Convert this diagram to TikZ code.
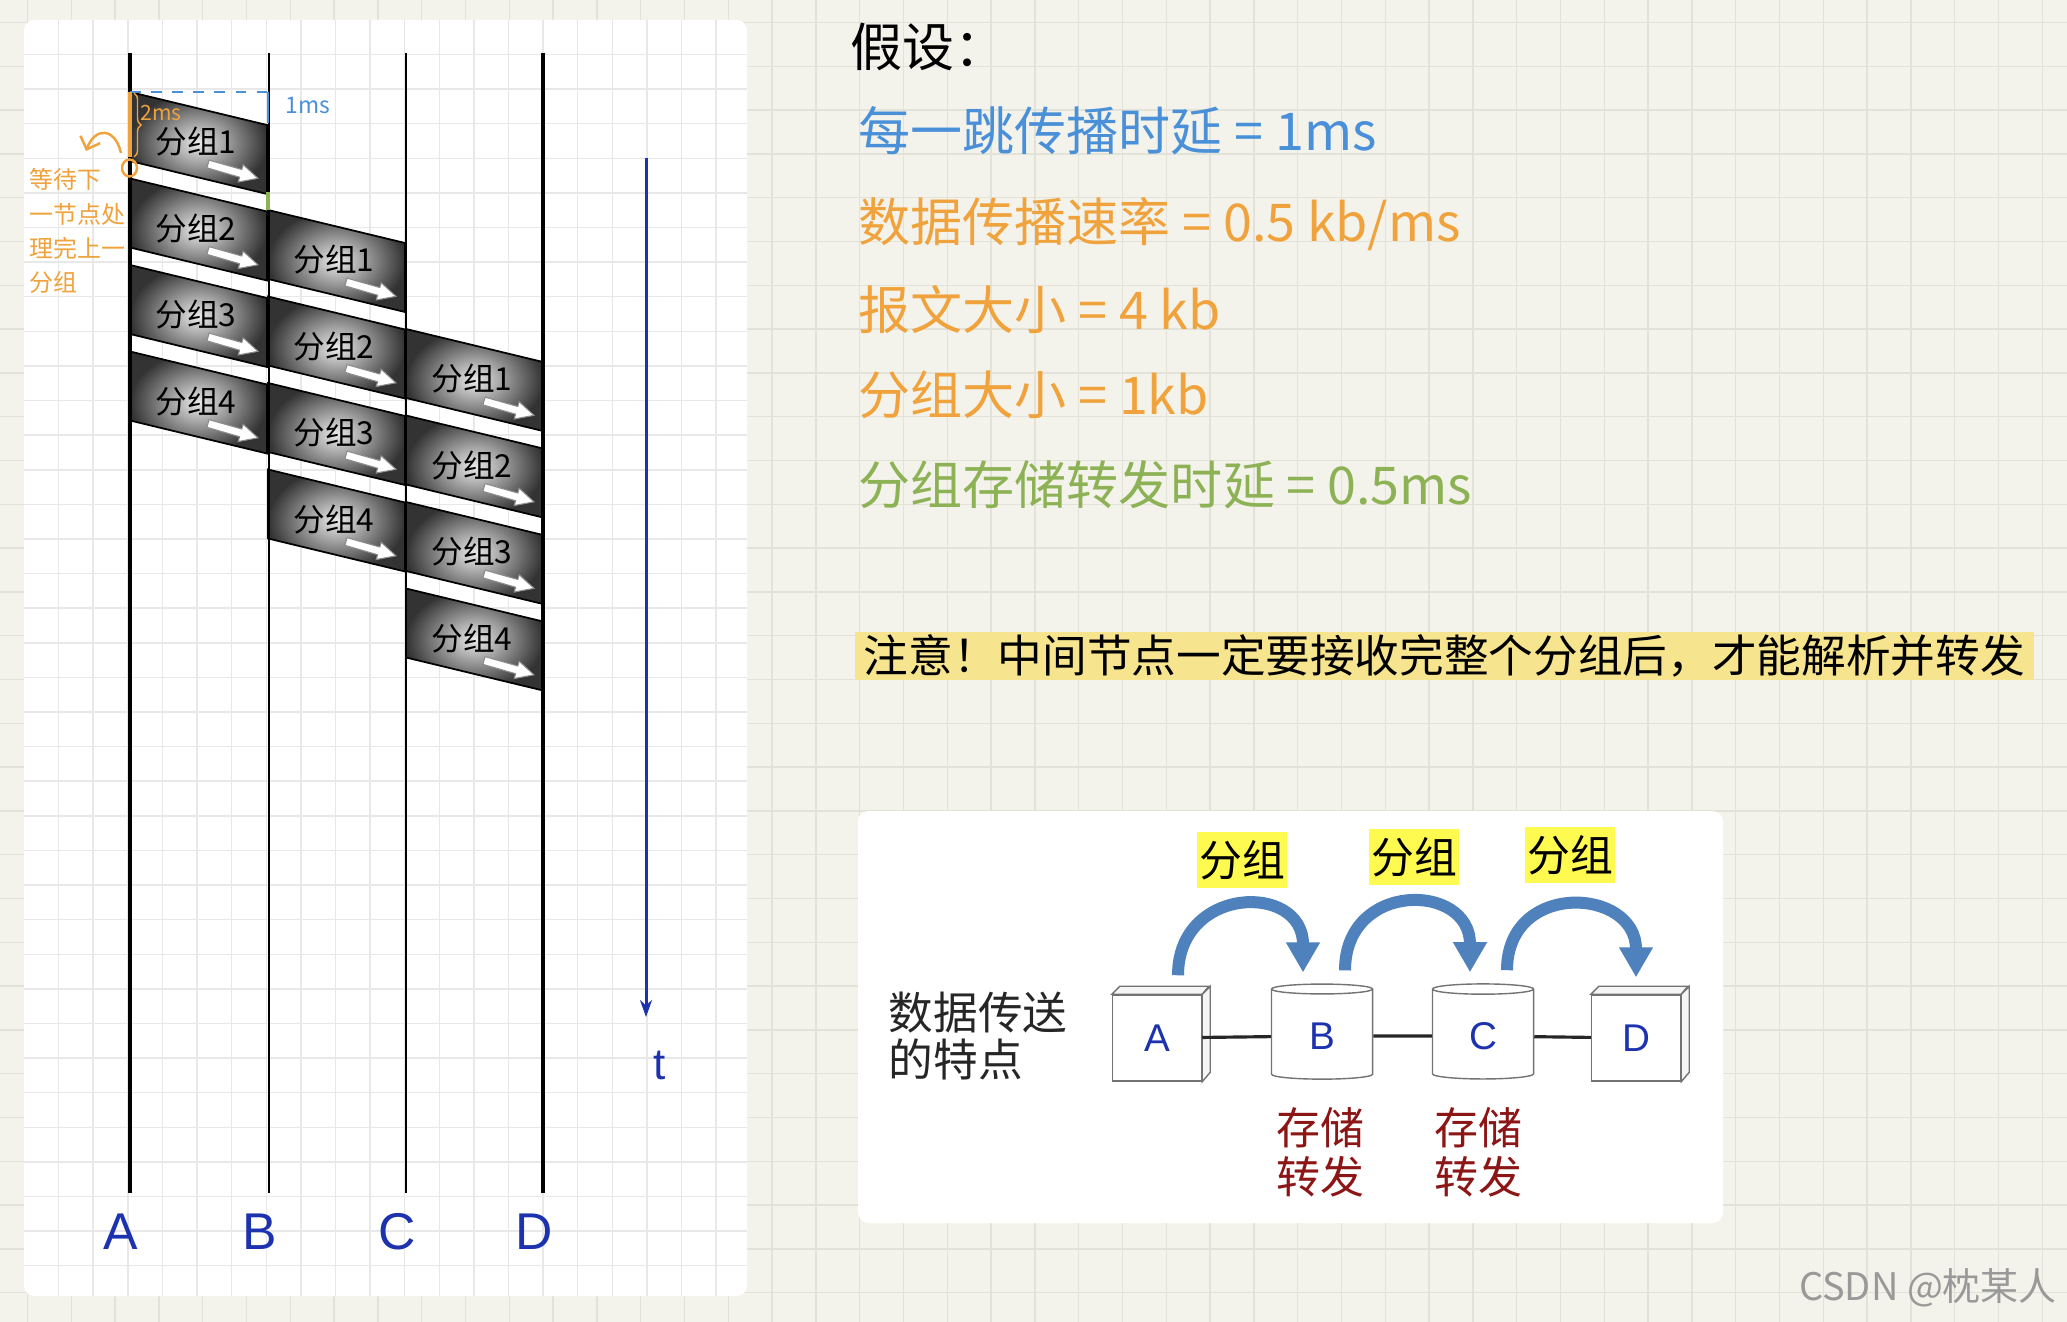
\documentclass[tikz,border=0pt]{standalone}
\usepackage{fontspec}
\setmainfont{Liberation Sans}
\newfontfamily\cjk{Noto Sans CJK SC}
\usepackage{tikz}
\usetikzlibrary{arrows.meta,positioning,shapes.geometric,decorations.pathreplacing}
\usepackage{xcolor}
\definecolor{paper}{RGB}{244,243,235}
\definecolor{papergrid}{RGB}{226,226,216}
\definecolor{sheetgrid}{RGB}{232,232,232}
\definecolor{inkblue}{RGB}{74,144,217}
\definecolor{inkorange}{RGB}{240,162,60}
\definecolor{inkgreen}{RGB}{141,178,85}
\definecolor{markyellow}{RGB}{246,228,142}
\definecolor{axisblue}{RGB}{28,50,175}
\definecolor{hopblue}{RGB}{79,129,189}
\definecolor{tagyellow}{RGB}{255,250,80}
\definecolor{storered}{RGB}{140,22,22}

\begin{document}
\begin{tikzpicture}[x=0.01cm,y=-0.01cm,
  packet/.style={inner color=black!8,outer color=black!80,draw=black,line width=0.5pt},
  pktlabel/.style={font=\cjk\fontsize{9}{10}\selectfont,inner sep=0pt},
  axislabel/.style={font=\fontsize{14.7}{16}\selectfont,text=axisblue,inner sep=0pt},
  hand/.style={font=\cjk\fontsize{14.8}{17}\selectfont,anchor=west,inner sep=0pt},
  netbox/.style={draw=black!55,fill=white,minimum width=0.89cm,minimum height=0.86cm,text=axisblue,font=\fontsize{11}{12}\selectfont},
  boxside/.style={draw=black!55,fill=black!4},
  netcyl/.style={cylinder,shape border rotate=90,aspect=0.2,draw=black!55,fill=white,minimum width=1.01cm,minimum height=0.95cm,text=axisblue,font=\fontsize{11}{12}\selectfont},
  link/.style={black!85,line width=0.9pt},
  hop/.style={hopblue,line width=0.12cm,-{Triangle[width=0.32cm,length=0.3cm]}},
  tag/.style={fill=tagyellow,font=\cjk\fontsize{12.2}{14}\selectfont,minimum width=0.9cm,minimum height=0.56cm,inner sep=0pt},
  store/.style={text=storered,align=center,font=\cjk\fontsize{12.5}{14}\selectfont}]
  \useasboundingbox (0,0) rectangle (2067,1322);
  \fill[paper] (0,0) rectangle (2067,1322);
  \foreach \i in {0,...,46}{\draw[papergrid,line width=0.4pt] ({27.5+43.8*\i},0) -- ++(0,1322);}
  \foreach \i in {0,...,29}{\draw[papergrid,line width=0.4pt] (0,{22.5+43.8*\i}) -- ++(2067,0);}
  \fill[white,rounded corners=3pt] (24,20) rectangle (747,1296);
  \foreach \i in {1,...,20}{\draw[sheetgrid,line width=0.4pt] ({24+34.6*\i},20) -- ++(0,1276);}
  \foreach \i in {1,...,36}{\draw[sheetgrid,line width=0.4pt] (24,{20+34.6*\i}) -- ++(723,0);}
  \fill[white,rounded corners=3pt] (858,811) rectangle (1723,1223);

  \foreach \h/\x/\y in {1/130/92,2/268/210,3/406/329}{
    \foreach \k in {1,...,4}{
      \pgfmathsetmacro\ytop{\y+86.5*(\k-1)}
      \shade[packet] (\x,\ytop) -- ++(137,33) -- ++(0,69) -- ++(-137,-33) -- cycle;
      \begin{scope}[shift={(\x+78,\ytop+72)},rotate=-16]
        \draw[fill=white,draw=black!45,line width=0.3pt] (0,-4) -- (34,-4) -- (34,-9) -- (52,0) -- (34,9) -- (34,4) -- (0,4) -- cycle;
      \end{scope}
      \node[pktlabel] (pk\h\k) at (\x+66,\ytop+50) {分组\k};}}
  \foreach \n/\x/\w in {A/130/1.15pt,B/269/0.5pt,C/406/0.5pt,D/543/1.15pt}{
    \coordinate (top\n) at (\x,53);
    \coordinate (bot\n) at (\x,1193);
    \draw[line width=\w] (top\n) -- (bot\n);
    \node[axislabel] (ax\n) at (\x-9,1232) {\n};}
  \coordinate (tstart) at (646,158);
  \coordinate (tend) at (646,1017);
  \draw[axisblue,line width=0.85pt,-{Stealth[length=0.17cm,width=0.12cm]}] (tstart) -- (tend);
  \node[font=\fontsize{12.5}{14}\selectfont,text=axisblue] (t) at (660,1065) {t};

  \draw[inkblue,dashed,line width=0.8pt] (130,92) -- (268,92);
  \draw[inkblue,line width=0.8pt] (268,92) -- (268,123);
  \node[text=inkblue,font=\cjk\fontsize{6.5}{8}\selectfont] (onems) at (308,106) {1ms};
  \draw[inkorange,line width=1pt] (130,92) -- (130,157);
  \draw[inkorange,decorate,decoration={brace,amplitude=2pt}] (134,93) -- (134,157);
  \node[text=inkorange,font=\cjk\fontsize{6}{7}\selectfont] (twoms) at (161,113) {2ms};
  \draw[inkorange,line width=0.7pt] (129.5,168) ellipse [x radius=7.5,y radius=8.5];
  \draw[inkorange,line width=0.7pt,-{Straight Barb[length=3pt]}] (121,153) .. controls (115,127) and (95,127) .. (86,151);
  \node[anchor=north west,align=left,text=inkorange,font=\cjk\fontsize{6.8}{9.7}\selectfont,inner sep=0pt] (waitnote) at (29,168) {等待下\\一节点处\\理完上一\\分组};
  \draw[inkgreen,line width=1.2pt] (268,192) -- (268,210);

  \node[hand] (assume) at (850,47) {假设：};
  \node[hand,text=inkblue] (hopdelay) at (858,131) {每一跳传播时延 = 1ms};
  \node[hand,text=inkorange] (rate) at (858,224) {数据传播速率 = 0.5 kb/ms};
  \node[hand,text=inkorange] (msgsize) at (858,310) {报文大小 = 4 kb};
  \node[hand,text=inkorange] (pktsize) at (858,395) {分组大小 = 1kb};
  \node[hand,text=inkgreen] (fwddelay) at (858,485) {分组存储转发时延 = 0.5ms};
  \node[hand,fill=markyellow,font=\cjk\fontsize{12.7}{15}\selectfont,minimum height=0.48cm,inner xsep=0.09cm] (caution) at (854,656) {注意！中间节点一定要接收完整个分组后，才能解析并转发};

  \node[anchor=west,align=left,font=\cjk\fontsize{12.7}{13.4}\selectfont,text=black!85,inner sep=0pt] (feature) at (888,1036) {数据传送\\的特点};
  \foreach \n/\x in {A/1157,D/1636}{
    \node[netbox] (\n) at (\x,1038) {\n};
    \filldraw[boxside] (\n.north west) -- ++(8,-8) -- ++(89,0) -- (\n.north east) -- cycle;
    \filldraw[boxside] (\n.north east) -- ++(8,-8) -- ++(0,86) -- (\n.south east) -- cycle;}
  \node[netcyl] (B) at (1322,1036) {B};
  \node[netcyl] (C) at (1483,1036) {C};
  \draw[link] (A) -- (B);
  \draw[link] (B) -- (C);
  \draw[link] (C) -- (D);
  \draw[hop] ([shift={(21,-19)}]A.north) .. controls +(0,-90) and +(0,-90) .. ([shift={(-19,-11)}]B.north);
  \draw[hop] ([shift={(23,-13)}]B.north) .. controls +(0,-90) and +(0,-90) .. ([shift={(-13,-11)}]C.north);
  \draw[hop] ([shift={(24,-13)}]C.north) .. controls +(0,-90) and +(0,-90) .. ([shift={(0,-17)}]D.north);
  \node[tag] (tag1) at (1242,860) {分组};
  \node[tag] (tag2) at (1414,857) {分组};
  \node[tag] (tag3) at (1570,855) {分组};
  \node[store] (storeB) at (1320,1152) {存储\\转发};
  \node[store] (storeC) at (1478,1152) {存储\\转发};
  \node[text=black!40,font=\cjk\fontsize{10.8}{12}\selectfont] (csdn) at (1928,1288) {CSDN @枕某人};
\end{tikzpicture}
\end{document}
